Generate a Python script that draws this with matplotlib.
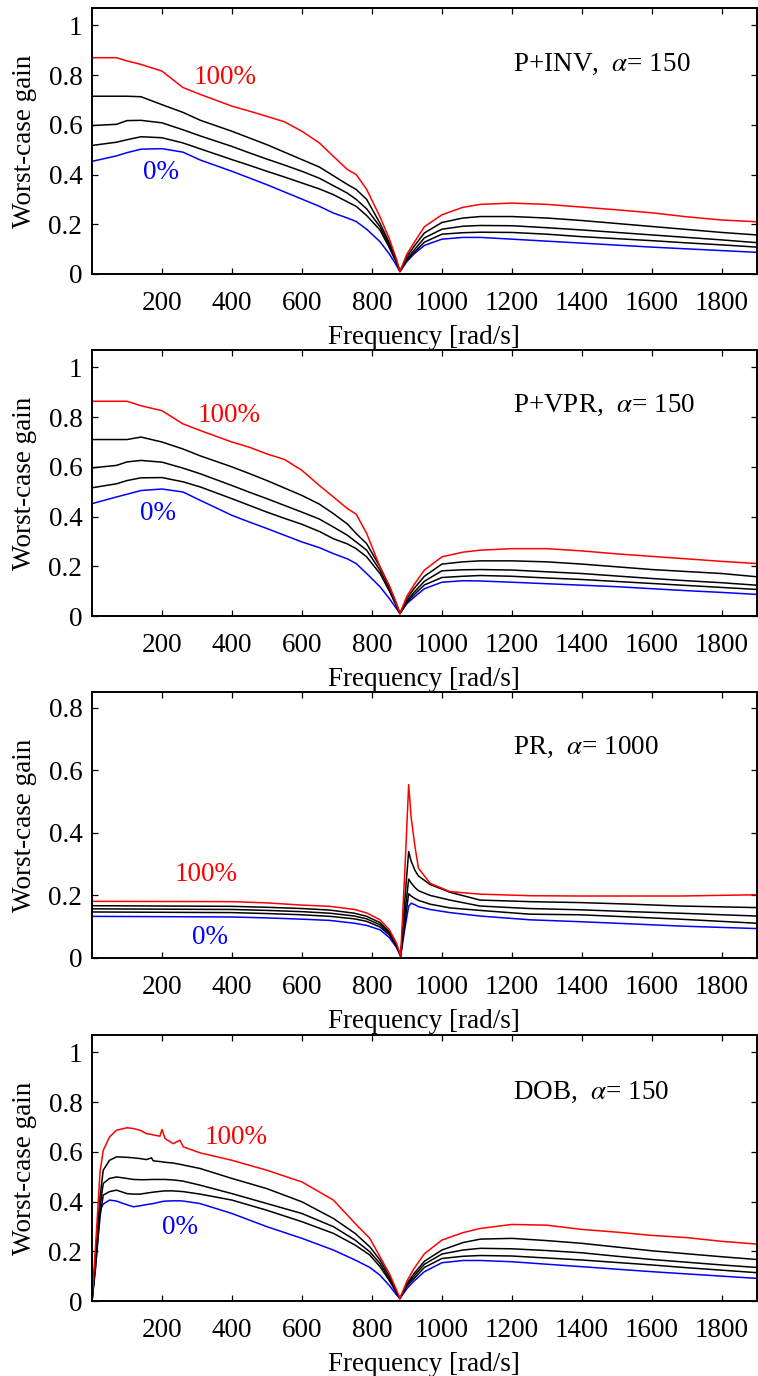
import matplotlib
matplotlib.use("Agg")
import matplotlib.pyplot as plt

plt.rcParams['font.family'] = ['Liberation Serif', 'DejaVu Serif']
plt.rcParams['mathtext.fontset'] = 'stix'

# P+INV, alpha = 150
f1 = [0, 70, 100, 140, 200, 260, 310, 400, 450, 500, 550, 600, 650, 690, 730, 755, 785, 823, 850, 870,
      880, 900, 920, 950, 1000, 1060, 1110, 1200, 1300, 1400, 1500, 1600, 1700, 1800, 1900]
inv_100 = [0.87, 0.87, 0.857, 0.843, 0.816, 0.75, 0.722, 0.675, 0.655, 0.634, 0.612, 0.574, 0.527, 0.473, 0.42, 0.40, 0.34, 0.23, 0.14, 0.06,
           0.01, 0.08, 0.125, 0.19, 0.238, 0.268, 0.28, 0.285, 0.28, 0.269, 0.258, 0.246, 0.23, 0.217, 0.21]
inv_75 = [0.715, 0.715, 0.715, 0.713, 0.681, 0.65, 0.618, 0.574, 0.547, 0.52, 0.49, 0.46, 0.43, 0.395, 0.36, 0.34, 0.30, 0.204, 0.125, 0.055,
          0.01, 0.07, 0.11, 0.165, 0.207, 0.225, 0.231, 0.231, 0.225, 0.215, 0.203, 0.191, 0.179, 0.167, 0.157]
inv_50 = [0.597, 0.602, 0.617, 0.618, 0.608, 0.58, 0.555, 0.513, 0.487, 0.462, 0.438, 0.413, 0.385, 0.355, 0.325, 0.30, 0.262, 0.19, 0.115, 0.05,
          0.01, 0.06, 0.095, 0.145, 0.18, 0.192, 0.195, 0.194, 0.186, 0.177, 0.167, 0.157, 0.147, 0.137, 0.126]
inv_25 = [0.517, 0.53, 0.54, 0.552, 0.548, 0.527, 0.503, 0.46, 0.437, 0.413, 0.39, 0.366, 0.342, 0.319, 0.29, 0.272, 0.235, 0.177, 0.105, 0.045,
          0.01, 0.055, 0.085, 0.128, 0.16, 0.166, 0.168, 0.167, 0.16, 0.15, 0.142, 0.134, 0.125, 0.117, 0.108]
inv_0 = [0.453, 0.475, 0.488, 0.502, 0.504, 0.49, 0.458, 0.413, 0.386, 0.359, 0.33, 0.301, 0.272, 0.245, 0.225, 0.211, 0.18, 0.13, 0.08, 0.035,
         0.01, 0.05, 0.08, 0.115, 0.14, 0.147, 0.147, 0.14, 0.132, 0.124, 0.116, 0.108, 0.101, 0.094, 0.087]

# P+VPR, alpha = 150
f2 = f1
vpr_100 = [0.864, 0.864, 0.864, 0.846, 0.826, 0.773, 0.746, 0.70, 0.679, 0.652, 0.63, 0.586, 0.525, 0.479, 0.432, 0.41, 0.332, 0.198, 0.12, 0.05,
           0.01, 0.08, 0.125, 0.185, 0.238, 0.257, 0.265, 0.271, 0.271, 0.262, 0.25, 0.24, 0.23, 0.22, 0.211]
vpr_75 = [0.71, 0.71, 0.71, 0.72, 0.70, 0.672, 0.644, 0.60, 0.573, 0.545, 0.515, 0.485, 0.45, 0.412, 0.37, 0.332, 0.291, 0.198, 0.12, 0.05,
          0.01, 0.07, 0.11, 0.16, 0.209, 0.218, 0.222, 0.222, 0.218, 0.209, 0.198, 0.187, 0.179, 0.171, 0.158]
vpr_50 = [0.596, 0.606, 0.62, 0.626, 0.619, 0.595, 0.572, 0.525, 0.498, 0.472, 0.445, 0.418, 0.39, 0.358, 0.325, 0.298, 0.265, 0.184, 0.11, 0.045,
          0.01, 0.06, 0.095, 0.14, 0.182, 0.186, 0.187, 0.185, 0.178, 0.171, 0.161, 0.151, 0.142, 0.134, 0.124]
vpr_25 = [0.516, 0.532, 0.545, 0.556, 0.557, 0.54, 0.519, 0.472, 0.445, 0.418, 0.393, 0.369, 0.34, 0.311, 0.29, 0.271, 0.238, 0.171, 0.10, 0.04,
          0.01, 0.055, 0.085, 0.125, 0.155, 0.16, 0.163, 0.16, 0.153, 0.147, 0.139, 0.131, 0.123, 0.115, 0.107]
vpr_0 = [0.452, 0.479, 0.49, 0.505, 0.511, 0.499, 0.465, 0.405, 0.378, 0.352, 0.325, 0.298, 0.275, 0.251, 0.23, 0.211, 0.171, 0.118, 0.07, 0.03,
         0.01, 0.05, 0.075, 0.11, 0.136, 0.142, 0.141, 0.136, 0.13, 0.124, 0.118, 0.11, 0.102, 0.095, 0.087]

# PR, alpha = 1000
f3 = [0, 400, 500, 600, 680, 750, 785, 823, 850, 870, 882, 895, 905, 912, 923, 933, 966, 1023, 1109, 1251,
      1394, 1540, 1680, 1900]
pr_100 = [0.181, 0.18, 0.176, 0.169, 0.165, 0.155, 0.144, 0.122, 0.09, 0.048, 0.006, 0.3, 0.554, 0.45, 0.356, 0.287, 0.239, 0.212, 0.204, 0.199,
          0.198, 0.198, 0.198, 0.202]
pr_75 = [0.167, 0.165, 0.162, 0.158, 0.153, 0.143, 0.133, 0.113, 0.083, 0.044, 0.006, 0.2, 0.34, 0.31, 0.28, 0.262, 0.235, 0.21, 0.185, 0.18,
         0.177, 0.172, 0.166, 0.161]
pr_50 = [0.157, 0.155, 0.152, 0.148, 0.143, 0.134, 0.125, 0.106, 0.078, 0.04, 0.006, 0.15, 0.252, 0.24, 0.225, 0.215, 0.2, 0.185, 0.166, 0.158,
         0.154, 0.148, 0.143, 0.134]
pr_25 = [0.147, 0.145, 0.142, 0.138, 0.133, 0.125, 0.117, 0.099, 0.073, 0.038, 0.006, 0.12, 0.205, 0.198, 0.19, 0.184, 0.172, 0.16, 0.152, 0.14,
         0.138, 0.131, 0.124, 0.111]
pr_0 = [0.133, 0.131, 0.128, 0.124, 0.12, 0.111, 0.104, 0.09, 0.065, 0.034, 0.006, 0.1, 0.165, 0.175, 0.17, 0.164, 0.155, 0.145, 0.134, 0.122,
        0.116, 0.109, 0.102, 0.094]

# DOB, alpha = 150
f4 = [0, 10, 23, 32, 50, 70, 100, 118, 137, 156, 170, 175, 194, 200, 209, 232, 251, 261, 309, 400,
      500, 600, 690, 752, 794, 823, 850, 870, 880, 900, 920, 950, 1000, 1060, 1110, 1200, 1300, 1400, 1500, 1600,
      1700, 1800, 1900]
dob_100 = [0, 0.22, 0.52, 0.606, 0.66, 0.687, 0.697, 0.694, 0.687, 0.673, 0.67, 0.668, 0.663, 0.69, 0.653, 0.633, 0.647, 0.62, 0.596, 0.566,
           0.526, 0.479, 0.406, 0.312, 0.252, 0.178, 0.11, 0.045, 0.01, 0.08, 0.13, 0.19, 0.245, 0.275, 0.292, 0.308, 0.305, 0.288, 0.277, 0.264,
           0.255, 0.24, 0.229]
dob_75 = [0, 0.18, 0.42, 0.526, 0.566, 0.58, 0.578, 0.576, 0.573, 0.569, 0.576, 0.564, 0.561, 0.56, 0.558, 0.555, 0.55, 0.547, 0.533, 0.493,
          0.452, 0.399, 0.332, 0.272, 0.218, 0.165, 0.10, 0.04, 0.01, 0.07, 0.11, 0.16, 0.205, 0.235, 0.249, 0.252, 0.243, 0.232, 0.217, 0.202,
          0.19, 0.178, 0.167]
dob_50 = [0, 0.16, 0.38, 0.473, 0.493, 0.499, 0.493, 0.489, 0.488, 0.488, 0.489, 0.489, 0.489, 0.489, 0.489, 0.487, 0.484, 0.482, 0.466, 0.432,
          0.392, 0.352, 0.299, 0.245, 0.198, 0.151, 0.09, 0.037, 0.01, 0.065, 0.10, 0.148, 0.189, 0.205, 0.212, 0.21, 0.203, 0.194, 0.18, 0.167,
          0.156, 0.145, 0.135]
dob_25 = [0, 0.14, 0.34, 0.426, 0.44, 0.446, 0.432, 0.43, 0.43, 0.434, 0.437, 0.438, 0.441, 0.442, 0.443, 0.443, 0.441, 0.44, 0.43, 0.406,
          0.365, 0.319, 0.272, 0.225, 0.185, 0.138, 0.082, 0.033, 0.01, 0.06, 0.09, 0.135, 0.171, 0.18, 0.183, 0.181, 0.173, 0.165, 0.155, 0.145,
          0.134, 0.124, 0.114]
dob_0 = [0, 0.13, 0.365, 0.39, 0.406, 0.402, 0.387, 0.379, 0.383, 0.388, 0.391, 0.392, 0.398, 0.40, 0.402, 0.403, 0.403, 0.402, 0.392, 0.352,
         0.299, 0.252, 0.205, 0.165, 0.135, 0.104, 0.062, 0.025, 0.01, 0.05, 0.08, 0.118, 0.154, 0.163, 0.163, 0.158, 0.148, 0.138, 0.128, 0.118,
         0.109, 0.10, 0.091]

panels = [
    ("P+INV,  $\\alpha$= 150", f1, [inv_0, inv_25, inv_50, inv_75, inv_100], 1.07, 0.843, (289, 0.79), (146, 0.407)),
    ("P+VPR,  $\\alpha$= 150", f2, [vpr_0, vpr_25, vpr_50, vpr_75, vpr_100], 1.07, 0.846, (303, 0.806), (137, 0.413)),
    ("PR,  $\\alpha$= 1000", f3, [pr_0, pr_25, pr_50, pr_75, pr_100], 0.85, 0.672, (237, 0.266), (286, 0.064)),
    ("DOB,  $\\alpha$= 150", f4, [dob_0, dob_25, dob_50, dob_75, dob_100], 1.07, 0.839, (323, 0.659), (200, 0.297)),
]
line_colors = ['#0000ff', 'k', 'k', 'k', '#ff0000']
bottoms = [0.8009, 0.5523, 0.3038, 0.0545]
fs = 19.5

fig = plt.figure(figsize=(7.58, 13.76), dpi=100)
for (title, freq, curves, ytop, ytitle, pos100, pos0), b in zip(panels, bottoms):
    ax = fig.add_axes([0.1214, b, 0.877, 0.1933])
    for vals, c in zip(curves, line_colors):
        ax.plot(freq, vals, color=c, lw=1.1)
    ax.set_xlim(0, 1900)
    ax.set_ylim(0, ytop)
    ax.set_xticks(range(200, 1900, 200))
    if ytop > 1:
        ax.set_yticks([0, 0.2, 0.4, 0.6, 0.8, 1])
        ax.set_yticklabels(['0', '0.2', '0.4', '0.6', '0.8', '1'])
    else:
        ax.set_yticks([0, 0.2, 0.4, 0.6, 0.8])
        ax.set_yticklabels(['0', '0.2', '0.4', '0.6', '0.8'])
    ax.tick_params(direction='in', top=True, right=True, length=4, width=0.9,
                   labelsize=fs, pad=7)
    ax.tick_params(axis='x', pad=12)
    for s in ax.spines.values():
        s.set_linewidth(1.4)
    ax.set_xlabel('Frequency [rad/s]', fontsize=fs, labelpad=7)
    ax.set_ylabel('Worst-case gain', fontsize=fs, labelpad=8)
    ax.text(1203, ytitle, title, fontsize=fs, va='center', ha='left')
    ax.text(pos100[0], pos100[1], '100%', color='#ff0000', fontsize=fs, va='center', ha='left')
    ax.text(pos0[0], pos0[1], '0%', color='#0000ff', fontsize=fs, va='center', ha='left')

fig.savefig('out.png', dpi=100)
